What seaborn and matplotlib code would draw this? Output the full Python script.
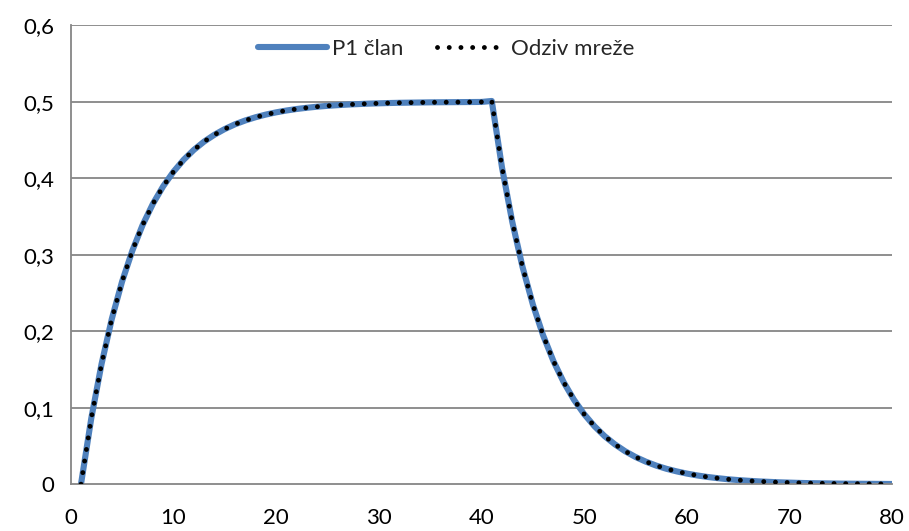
import numpy as np
import pandas as pd
import seaborn as sns
import matplotlib.pyplot as plt

# step response data (x = 1 .. 80)
x_vals = list(range(1, 81))
p1_clan = [
    0.0000, 0.0860, 0.1571, 0.2161, 0.2649, 0.3053, 0.3388, 0.3665, 0.3894, 0.4084,
    0.4242, 0.4372, 0.4480, 0.4569, 0.4643, 0.4705, 0.4755, 0.4797, 0.4832, 0.4861,
    0.4885, 0.4905, 0.4921, 0.4935, 0.4946, 0.4955, 0.4963, 0.4969, 0.4975, 0.4979,
    0.4983, 0.4986, 0.4988, 0.4990, 0.4992, 0.4993, 0.4994, 0.4995, 0.4996, 0.4997,
    0.5010, 0.4138, 0.3427, 0.2838, 0.2350, 0.1946, 0.1611, 0.1334, 0.1105, 0.0915,
    0.0758, 0.0627, 0.0520, 0.0430, 0.0356, 0.0295, 0.0244, 0.0202, 0.0168, 0.0139,
    0.0115, 0.0095, 0.0079, 0.0065, 0.0054, 0.0045, 0.0037, 0.0031, 0.0025, 0.0021,
    0.0017, 0.0014, 0.0012, 0.0010, 0.0008, 0.0007, 0.0006, 0.0005, 0.0004, 0.0003,
]
odziv_mreze = [
    0.0000, 0.0860, 0.1571, 0.2161, 0.2649, 0.3053, 0.3388, 0.3665, 0.3894, 0.4084,
    0.4242, 0.4372, 0.4480, 0.4569, 0.4643, 0.4705, 0.4755, 0.4797, 0.4832, 0.4861,
    0.4885, 0.4905, 0.4921, 0.4935, 0.4946, 0.4955, 0.4963, 0.4969, 0.4975, 0.4979,
    0.4983, 0.4986, 0.4988, 0.4990, 0.4992, 0.4993, 0.4994, 0.4995, 0.4996, 0.4997,
    0.5010, 0.4138, 0.3427, 0.2838, 0.2350, 0.1946, 0.1611, 0.1334, 0.1105, 0.0915,
    0.0758, 0.0627, 0.0520, 0.0430, 0.0356, 0.0295, 0.0244, 0.0202, 0.0168, 0.0139,
    0.0115, 0.0095, 0.0079, 0.0065, 0.0054, 0.0045, 0.0037, 0.0031, 0.0025, 0.0021,
    0.0017, 0.0014, 0.0012, 0.0010, 0.0008, 0.0007, 0.0006, 0.0005, 0.0004, 0.0003,
]
series_names = ['P1 član', 'Odziv mreže']
x_ticks = [0, 10, 20, 30, 40, 50, 60, 70, 80]
y_ticks = [0, 0.1, 0.2, 0.3, 0.4, 0.5, 0.6]
y_tick_labels = ['0', '0,1', '0,2', '0,3', '0,4', '0,5', '0,6']

sns.set_style('white')
plt.rcParams['font.family'] = ['Lato', 'DejaVu Sans']

fig = plt.figure(figsize=(9.09, 5.31), dpi=100)
ax = fig.add_axes([0.0778, 0.0881, 0.9038, 0.8644])

grid_col = '#868686'
for yt in y_ticks[1:]:
    ax.axhline(yt, color=grid_col, lw=1.3, zorder=0)

# blue P1 line
sns.lineplot(x=x_vals, y=p1_clan, ax=ax, color='#4F81BD', lw=4.4,
             label=series_names[0], solid_capstyle='round',
             solid_joinstyle='round', zorder=2)
# black dotted network response
sns.lineplot(x=x_vals, y=odziv_mreze, ax=ax, color='black', lw=3.5,
             label=series_names[1], zorder=3)
ax.lines[-1].set_linestyle((0, (0.01, 2.4)))
ax.lines[-1].set_dash_capstyle('round')

ax.set_xlim(0, 80)
ax.set_ylim(0, 0.6)
ax.set_xticks(x_ticks)
ax.set_yticks(y_ticks)
ax.set_yticklabels(y_tick_labels)
ax.set_xlabel('')
ax.set_ylabel('')

for side in ['top', 'right']:
    ax.spines[side].set_visible(False)
for side in ['left', 'bottom']:
    ax.spines[side].set_color(grid_col)
    ax.spines[side].set_linewidth(1.3)
ax.tick_params(axis='both', direction='out', length=6, width=1.3,
               color=grid_col, labelsize=16, labelcolor='black', pad=6)
ax.tick_params(axis='x', pad=11)

leg = ax.legend(loc='center', bbox_to_anchor=(0.457, 0.948), ncol=2,
                frameon=False, fontsize=16, handlelength=3.1,
                handletextpad=0.25, columnspacing=1.5)
leg.get_lines()[1].set_linestyle((0, (0.01, 2.4)))

fig.savefig('out.png', dpi=100)
